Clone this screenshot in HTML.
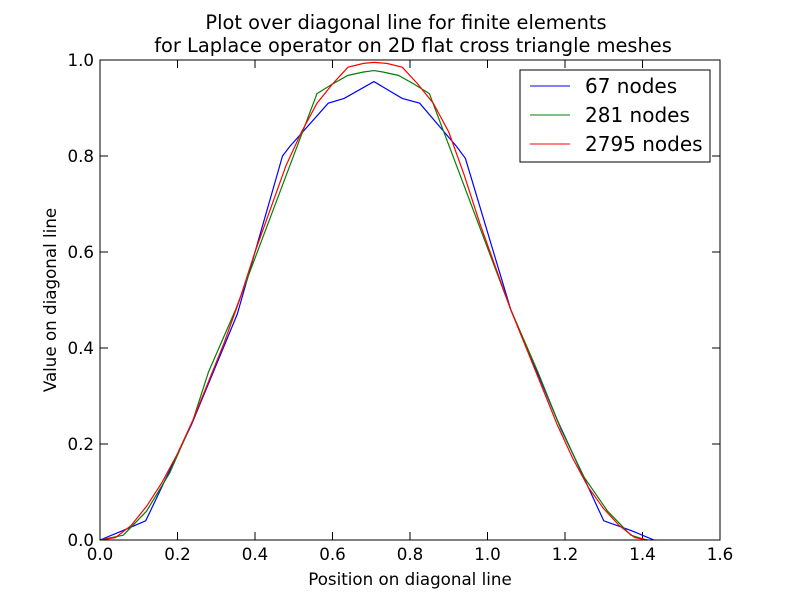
<!DOCTYPE html>
<html><head><meta charset="utf-8"><style>
body{margin:0;background:#fff}
svg{font-family:"DejaVu Sans","Liberation Sans",sans-serif}
</style></head><body>
<svg id="c" width="800" height="600" viewBox="0 0 800 600">
<rect width="800" height="600" fill="#fff"/>
<text x="406" y="29" font-size="19.4" text-anchor="middle">Plot over diagonal line for finite elements</text>
<text x="413" y="52" font-size="19.4" text-anchor="middle">for Laplace operator on 2D flat cross triangle meshes</text>
<g id="ticks"></g>
<g id="series"></g>
<rect x="100" y="60" width="620" height="480" fill="none" stroke="#000" stroke-width="1"/>
<text x="410" y="585" font-size="16.7" text-anchor="middle">Position on diagonal line</text>
<text x="56" y="300" font-size="16.7" text-anchor="middle" transform="rotate(-90 56 300)">Value on diagonal line</text>
<g>
<rect x="520" y="70" width="190" height="92" fill="#fff" stroke="#000"/>
<line x1="530" y1="86" x2="570" y2="86" stroke="#0000ff"/>
<text x="585" y="93" font-size="20">67 nodes</text>
<line x1="530" y1="115" x2="570" y2="115" stroke="#008000"/>
<text x="585" y="122" font-size="20">281 nodes</text>
<line x1="530" y1="144" x2="570" y2="144" stroke="#ff0000"/>
<text x="585" y="151" font-size="20">2795 nodes</text>
</g>
</svg>
<script>
const xTicks=[0,0.2,0.4,0.6,0.8,1.0,1.2,1.4,1.6];
const xTickLabels=["0.0","0.2","0.4","0.6","0.8","1.0","1.2","1.4","1.6"];
const yTicks=[0,0.2,0.4,0.6,0.8,1.0];
const yTickLabels=["0.0","0.2","0.4","0.6","0.8","1.0"];
const blueX=[0,0.06,0.118,0.236,0.354,0.471,0.49,0.589,0.63,0.707,0.78,0.825,0.92,0.943,1.06,1.18,1.30,1.37,1.414,1.43];
const blueY=[0,0.02,0.04,0.24,0.47,0.80,0.82,0.91,0.92,0.955,0.92,0.91,0.82,0.795,0.48,0.25,0.04,0.02,0.005,0];
const greenX=[0,0.06,0.12,0.18,0.24,0.28,0.35,0.42,0.49,0.56,0.60,0.64,0.68,0.707,0.73,0.77,0.81,0.85,0.92,0.99,1.06,1.13,1.19,1.25,1.31,1.37,1.41];
const greenY=[0,0.01,0.06,0.14,0.25,0.35,0.48,0.63,0.78,0.93,0.95,0.968,0.975,0.978,0.975,0.968,0.95,0.93,0.78,0.63,0.48,0.35,0.23,0.13,0.06,0.01,0];
const redX=[0,0.04,0.08,0.12,0.16,0.2,0.24,0.28,0.32,0.36,0.4,0.44,0.48,0.52,0.56,0.6,0.64,0.68,0.707,0.74,0.78,0.82,0.86,0.9,0.94,0.98,1.02,1.06,1.1,1.14,1.18,1.22,1.26,1.3,1.34,1.38,1.414];
const redY=[0,0.005,0.03,0.07,0.12,0.18,0.25,0.33,0.41,0.5,0.6,0.69,0.78,0.85,0.91,0.95,0.985,0.993,0.995,0.993,0.985,0.95,0.91,0.85,0.76,0.66,0.57,0.48,0.4,0.32,0.24,0.17,0.11,0.065,0.03,0.005,0];
const NS="http://www.w3.org/2000/svg";
const sx=v=>100+v/1.6*620, sy=v=>540-v*480;
const tg=document.getElementById('ticks'), sg=document.getElementById('series');
function mk(t,a,p){const e=document.createElementNS(NS,t);for(const k in a)e.setAttribute(k,a[k]);p.appendChild(e);return e;}
xTicks.forEach((v,i)=>{const x=sx(v);
 let l=mk('line',{x1:x,x2:x,y1:540,y2:532,stroke:'#000'},tg);
 
 
 let l2=mk('line',{x1:x,x2:x,y1:60,y2:68,stroke:'#000'},tg);
 
 
 let t=mk('text',{x:x,y:560,'font-size':16.7,'text-anchor':'middle'},tg);t.textContent=xTickLabels[i];
 
 
});
yTicks.forEach((v,i)=>{const y=sy(v);
 let l=mk('line',{x1:100,x2:108,y1:y,y2:y,stroke:'#000'},tg);
 
 
 let l2=mk('line',{x1:712,x2:720,y1:y,y2:y,stroke:'#000'},tg);
 
 
 let t=mk('text',{x:94,y:y+6,'font-size':16.7,'text-anchor':'end'},tg);t.textContent=yTickLabels[i];
 
 
});
function line(xs,ys,c,name){
 const p=mk('polyline',{points:xs.map((x,i)=>sx(x)+','+sy(ys[i])).join(' '),fill:'none',stroke:c,'stroke-width':1.2},sg);
 
 
}
line(blueX,blueY,'#0000ff','series-67-nodes');
line(greenX,greenY,'#008000','series-281-nodes');
line(redX,redY,'#ff0000','series-2795-nodes');
</script>
</body></html>
